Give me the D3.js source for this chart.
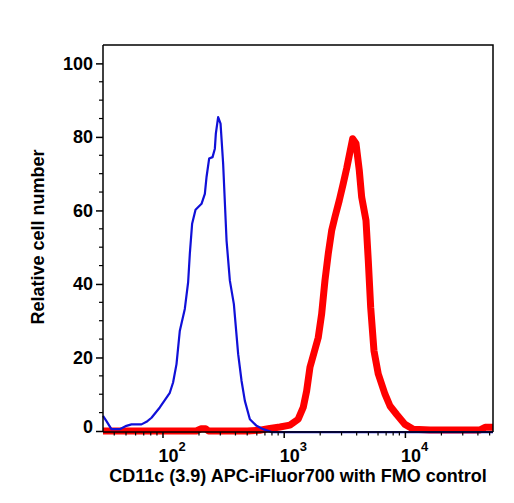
<!DOCTYPE html>
<html><head><meta charset="utf-8">
<script src="https://cdn.jsdelivr.net/npm/d3@7"></script>
<style>body{margin:0;background:#fff}svg{display:block}</style>
</head><body>
<svg id="c" width="514" height="503"></svg>
<script>
// ---- data ----
const xDomain = [32.3, 53300];
const yDomain = [0, 105];
const yMajorTicks = [0, 20, 40, 60, 80, 100];
const yMinorTicks = [5, 10, 15, 25, 30, 35, 45, 50, 55, 65, 70, 75, 85, 90, 95];
const xDecadeTicks = [100, 1000, 10000];
const xDecadeExponents = ["2", "3", "4"];
const xMinorTicks = [40, 50, 60, 70, 80, 90, 200, 300, 400, 500, 600, 700, 800, 900,
  2000, 3000, 4000, 5000, 6000, 7000, 8000, 9000, 20000, 30000, 40000, 50000];
const xTitle = "CD11c (3.9) APC-iFluor700 with FMO control";
const yTitle = "Relative cell number";

// FMO control (blue)
const blueX = [32.3, 34.5, 37.9, 44.4, 50.4, 55.5, 67.1, 73.8, 81.2, 95.0, 114.9, 122.3, 130.5, 139.0,
  152.8, 162.7, 168.1, 175.6, 187.3, 209.9, 223.6, 230.9, 242.6, 258.8, 270.4, 275.5, 287.8, 301.3,
  316.5, 337.7, 359.6, 388.0, 421.1, 449.1, 478.2, 525.9, 597.4, 677.2, 794.6, 53300];
const blueY = [4.1, 2.7, 0.5, 0.5, 1.4, 1.8, 1.8, 2.5, 3.6, 6.4, 10.4, 13.2, 18.2, 27.3,
  33.2, 40.4, 48.2, 56.4, 60.2, 61.8, 64.5, 69.1, 74.1, 74.5, 76.8, 80.9, 85.4, 83.6,
  72.7, 51.8, 40.9, 34.5, 20.9, 13.6, 8.2, 3.2, 1.4, 0.5, -0.3, -0.3];

// CD11c stained (red)
const redX = [32.3, 100, 190, 207, 227, 240, 500, 636, 768, 930, 1125, 1317, 1449, 1546, 1646, 1752,
  1927, 2056, 2189, 2331, 2486, 2647, 2873, 3099, 3306, 3522, 3707, 3948, 4203, 4399, 4774,
  4986, 5220, 5557, 6031, 6852, 7535, 8559, 10020, 11730, 16120, 41710, 45870, 53300];
const redY = [0, 0, 0, 0.6, 0.6, 0, 0, 0.2, 0.7, 1.1, 1.6, 3.2, 6.4, 10.9, 17.3, 20.5,
  25.4, 31.8, 40.9, 48.2, 54.5, 58.2, 62.7, 67.3, 71.4, 75.9, 79.5, 78.2, 70.9, 63.6, 57.3,
  46.4, 33.6, 21.8, 15.5, 10.0, 6.8, 4.5, 1.8, 0.5, 0.3, 0.3, 1.0, 1.0];

// ---- layout ----
const L = 103, R = 493, T = 45, B = 431, AXY = 432;
const svg = d3.select("#c");
const font = "'Liberation Sans', Arial, Helvetica, sans-serif";

const x = d3.scaleLog().domain(xDomain).range([L, R]);
const y = d3.scaleLinear().domain(yDomain).range([B, T]);

const line = d3.line().x(d => x(d[0])).y(d => y(d[1]));

const red = d3.zip(redX, redY);
const blue = d3.zip(blueX, blueY);

svg.append("path").datum(red).attr("d", line)
  .attr("fill", "none").attr("stroke", "#ff0000").attr("stroke-width", 7)
  .attr("stroke-linejoin", "round").attr("stroke-linecap", "butt");
svg.append("path").datum(blue).attr("d", line)
  .attr("fill", "none").attr("stroke", "#1010d8").attr("stroke-width", 2.2)
  .attr("stroke-linejoin", "round");

// frame (top and right)
svg.append("path").attr("d", `M${L},${T}H${R}V${AXY}`)
  .attr("fill", "none").attr("stroke", "#000").attr("stroke-width", 1.5);

// y axis
const yAxisG = svg.append("g").attr("transform", `translate(${L},0)`);
yAxisG.call(d3.axisLeft(y).tickValues(yMajorTicks).tickSize(7).tickSizeOuter(0).tickPadding(3));
yAxisG.select(".domain").attr("d", `M0,${T}V${AXY}`).attr("stroke-width", 1.5);
yAxisG.selectAll(".tick line").attr("stroke-width", 1.5);
yAxisG.selectAll(".tick text").attr("font-family", font).attr("font-size", 18)
  .attr("font-weight", "bold").attr("fill", "#000")
  .attr("y", d => d === 0 ? -4 : 0);
yAxisG.selectAll(".minor").data(yMinorTicks).enter().append("line")
  .attr("x1", -4).attr("x2", 0).attr("y1", d => y(d)).attr("y2", d => y(d))
  .attr("stroke", "#000").attr("stroke-width", 1.2);

// x axis
const xAxisG = svg.append("g").attr("transform", `translate(0,${AXY})`);
xAxisG.call(d3.axisBottom(x).tickValues(xDecadeTicks).tickSize(6).tickSizeOuter(0).tickFormat(""));
xAxisG.select(".domain").attr("d", `M${L},0H${R}`).attr("stroke-width", 1.5);
xAxisG.selectAll(".tick line").attr("stroke-width", 1.5);
xAxisG.selectAll(".minor").data(xMinorTicks).enter().append("line")
  .attr("x1", d => x(d)).attr("x2", d => x(d)).attr("y1", 0).attr("y2", 3.5)
  .attr("stroke", "#000").attr("stroke-width", 1.2);

const xl = svg.append("g");
xDecadeTicks.forEach((v, i) => {
  const t = xl.append("text").attr("x", x(v) - 4).attr("y", 462)
    .attr("font-family", font).attr("font-weight", "bold").attr("font-size", 18).attr("fill", "#000");
  t.append("tspan").text("10");
  t.append("tspan").attr("dy", -11).attr("font-size", 13).text(xDecadeExponents[i]);
});

// titles
svg.append("text").attr("x", 298).attr("y", 482).attr("text-anchor", "middle")
  .attr("font-family", font).attr("font-weight", "bold").attr("font-size", 18).text(xTitle);
svg.append("text").attr("transform", "translate(44,237) rotate(-90)").attr("text-anchor", "middle")
  .attr("font-family", font).attr("font-weight", "bold").attr("font-size", 18).text(yTitle);
</script>
</body></html>
